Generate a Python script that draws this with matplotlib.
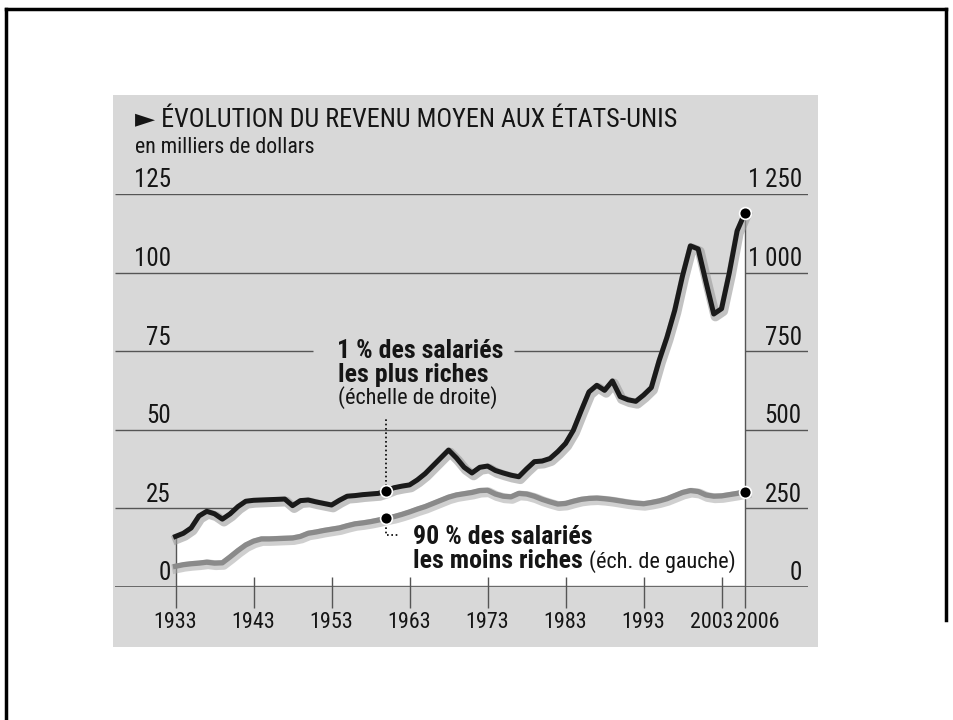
import matplotlib
matplotlib.use("Agg")
import matplotlib.pyplot as plt
import matplotlib.patheffects as pe
from matplotlib.patches import Rectangle
from matplotlib.lines import Line2D
import matplotlib.transforms as mtransforms
from matplotlib import font_manager as fm
import numpy as np

# ---------------- data ----------------
years = list(range(1933, 2007))

# Top 1% average income (thousands of dollars, right scale)
top1 = [160, 170, 187, 225, 240, 232, 215, 232, 255, 272,
        275, 276, 277, 278, 279, 258, 274, 276, 270, 265,
        260, 275, 288, 290, 293, 295, 297, 305, 315, 320,
        324, 340, 360, 385, 410, 435, 410, 380, 362, 380,
        384, 370, 362, 355, 350, 375, 398, 400, 408, 430,
        456, 498, 560, 620, 641, 625, 655, 605, 595, 590,
        610, 634, 720, 794, 880, 990, 1085, 1075, 970, 868,
        885, 1000, 1133, 1190]

# Bottom 90% average income (thousands of dollars, left scale)
bottom90 = [6.5, 7.0, 7.3, 7.5, 7.8, 7.5, 7.6, 9.5, 11.5, 13.3,
            14.5, 15.2, 15.2, 15.3, 15.4, 15.5, 16.0, 17.0, 17.4, 17.9,
            18.3, 18.7, 19.4, 20.0, 20.3, 20.7, 21.2, 21.8, 22.3, 23.0,
            23.8, 24.7, 25.5, 26.5, 27.5, 28.5, 29.2, 29.6, 30.0, 30.6,
            30.7, 29.5, 28.8, 28.6, 29.7, 29.5, 28.8, 27.8, 27.0, 26.3,
            26.5, 27.2, 27.8, 28.1, 28.2, 28.0, 27.7, 27.3, 26.9, 26.6,
            26.4, 26.8, 27.3, 28.0, 29.0, 30.0, 30.6, 30.3, 29.2, 28.8,
            28.9, 29.3, 29.7, 30.2]

left_ticks = [0, 25, 50, 75, 100, 125]
right_ticks = [0, 250, 500, 750, 1000, 1250]
right_labels = ["0", "250", "500", "750", "1\u2009000", "1\u2009250"]
year_ticks = [1933, 1943, 1953, 1963, 1973, 1983, 1993, 2003, 2006]
marker_year = 1960

title = "\u25BA ÉVOLUTION DU REVENU MOYEN AUX ÉTATS-UNIS"
subtitle = "en milliers de dollars"
label_top = ["1 % des salariés", "les plus riches", "(échelle de droite)"]
label_bot = ["90 % des salariés", "les moins riches", "(éch. de gauche)"]

# ---------------- font choice ----------------
entries = fm.fontManager.ttflist
names = {f.name for f in entries}
STRETCH = "normal"
FAM = None
for cand in ["Liberation Sans Narrow", "Roboto Condensed", "Open Sans Condensed",
             "DejaVu Sans Condensed"]:
    if cand in names:
        FAM = cand
        break
if FAM is None:
    if any(f.name == "DejaVu Sans" and str(f.stretch) in ("condensed", "semi-condensed")
           for f in entries):
        FAM, STRETCH = "DejaVu Sans", "condensed"
    elif "Roboto" in names:
        FAM = "Roboto"
    else:
        FAM = "Liberation Sans"
FONT = [FAM, "DejaVu Sans"]

# ---------------- style ----------------
W, H = 954, 720
PAPER = "#d8d8d8"
GRID = "#555555"
INK = "#151515"
RATIO = 10.0  # right scale / left scale

fig = plt.figure(figsize=(W / 100, H / 100), dpi=100)
fig.patch.set_facecolor("white")
renderer = fig.canvas.get_renderer()


def fx(px):
    return px / W


def fy(py):
    return 1 - py / H


def fit(t, target_px):
    w = t.get_window_extent(renderer).width
    t.set_fontsize(t.get_fontsize() * target_px / w)
    return t.get_fontsize()


# slide border
for (x0, y0, x1, y1) in [(6, 9, 946, 9), (6, 9, 6, 720), (946, 9, 946, 620)]:
    fig.add_artist(Line2D([fx(x0), fx(x1)], [fy(y0), fy(y1)], color="black",
                          lw=2.5, transform=fig.transFigure))

# paper clipping
fig.add_artist(Rectangle((fx(113), fy(647)), fx(818) - fx(113), fy(95) - fy(647),
                         transform=fig.transFigure, facecolor=PAPER,
                         edgecolor="none", zorder=0))

# main axes: plot region (value 0 at y=586.7 px, 125 at y=194 px)
ax = fig.add_axes([fx(115), fy(586.7), fx(808) - fx(115), fy(194) - fy(586.7)])
ax.set_facecolor("none")
ax.set_xlim(1925.24, 2014.08)
ax.set_ylim(0, 125)
ax.axis("off")

yrs = np.array(years)
t1 = np.array(top1) / RATIO
b90 = np.array(bottom90)

# gridlines
for v in left_ticks:
    if v == 75:
        ax.hlines(v, 1925.24, 1950.6, color=GRID, lw=1.0, zorder=1)
        ax.hlines(v, 1976.4, 2014.08, color=GRID, lw=1.0, zorder=1)
    elif v == 0:
        ax.hlines(v, 1925.24, 2014.08, color=GRID, lw=1.2, zorder=4)
    else:
        ax.hlines(v, 1925.24, 2014.08, color=GRID, lw=1.0, zorder=1)

# white area under the top-1% curve
ax.fill_between(yrs, t1, 0.6, color="white", zorder=2, lw=0)

# edge verticals at 1933 and 2006, other ticks
ax.vlines(years[0], -6.7, t1[0], color=GRID, lw=1.0, zorder=3, clip_on=False)
ax.vlines(years[-1], -6.7, t1[-1], color=GRID, lw=1.0, zorder=3, clip_on=False)
for yv in year_ticks[1:-1]:
    ax.vlines(yv, -6.7, 3.0, color=GRID, lw=1.0, zorder=4, clip_on=False)

# series lines
ax.plot(yrs, b90, color="#8a8a8a", lw=3.8, zorder=5, solid_joinstyle="round",
        path_effects=[pe.Stroke(offset=(1, -1.5), linewidth=7,
                                foreground="#a8a8a8", alpha=0.55),
                      pe.Normal()])
ax.plot(yrs, t1, color="#1a1a1a", lw=3.6, zorder=6, solid_joinstyle="round",
        path_effects=[pe.Stroke(offset=(1.2, -1.8), linewidth=7,
                                foreground="#9a9a9a", alpha=0.6),
                      pe.Normal()])

# markers
mi = years.index(marker_year)
for xv, yv in [(marker_year, t1[mi]), (years[-1], t1[-1]),
               (marker_year, b90[mi]), (years[-1], b90[-1])]:
    ax.plot([xv], [yv], "o", ms=8.5, color="black", mec="white", mew=1.2, zorder=8)

# dotted pointers
ax.plot([marker_year, marker_year], [t1[mi] + 1.5, 54], color="black", lw=1.2,
        ls=(0, (1, 1.6)), zorder=7)
ax.plot([marker_year, marker_year, 1961.8], [b90[mi] - 1.5, 16.4, 16.4],
        color="black", lw=1.2, ls=(0, (1, 1.6)), zorder=7)

# axis labels
txt = dict(family=FONT, fontstretch=STRETCH, color=INK)
probe = fig.text(0, 0, "1933", fontsize=16, **txt)
year_fs = fit(probe, 44)
probe.remove()
probe = fig.text(0, 0, "125", fontsize=16, **txt)
val_fs = fit(probe, 37)
probe.remove()

off = 2.07
bl = mtransforms.blended_transform_factory(ax.transAxes, ax.transData)
for v in left_ticks:
    ax.text(0.0808, v + off, str(v), transform=bl, ha="right", va="baseline",
            fontsize=val_fs, **txt)
for v, lab in zip(right_ticks, right_labels):
    ax.text(0.991, v / RATIO + off, lab, transform=bl, ha="right", va="baseline",
            fontsize=val_fs, **txt)
for yv in year_ticks:
    xpos, ha = yv, "center"
    if yv == 2003:
        xpos, ha = yv + 1.5, "right"
    elif yv == 2006:
        xpos, ha = yv - 1.2, "left"
    ax.text(xpos, -13.2, str(yv), ha=ha, va="baseline", fontsize=year_fs,
            clip_on=False, **txt)

# title and subtitle
t = fig.text(fx(135), fy(127), title, ha="left", va="baseline", fontsize=17, **txt)
fit(t, 540)
t = fig.text(fx(135), fy(153), subtitle, ha="left", va="baseline", fontsize=14, **txt)
fit(t, 181)

# series annotations
a1 = fig.text(fx(337), fy(358), label_top[0], ha="left", va="baseline",
              fontsize=16, weight="bold", **txt)
bold_fs = fit(a1, 166)
fig.text(fx(338), fy(382), label_top[1], ha="left", va="baseline",
         fontsize=bold_fs, weight="bold", **txt)
a3 = fig.text(fx(338), fy(404), label_top[2], ha="left", va="baseline",
              fontsize=14, **txt)
reg_fs = fit(a3, 160)

fig.text(fx(413), fy(544), label_bot[0], ha="left", va="baseline",
         fontsize=bold_fs, weight="bold", **txt)
b2 = fig.text(fx(413), fy(568), label_bot[1], ha="left", va="baseline",
              fontsize=bold_fs, weight="bold", **txt)
x_end = b2.get_window_extent(renderer).x1
fig.text((x_end + 6) / W, fy(568), label_bot[2], ha="left", va="baseline",
         fontsize=reg_fs, **txt)

fig.savefig("out.png", dpi=100, facecolor="white")
